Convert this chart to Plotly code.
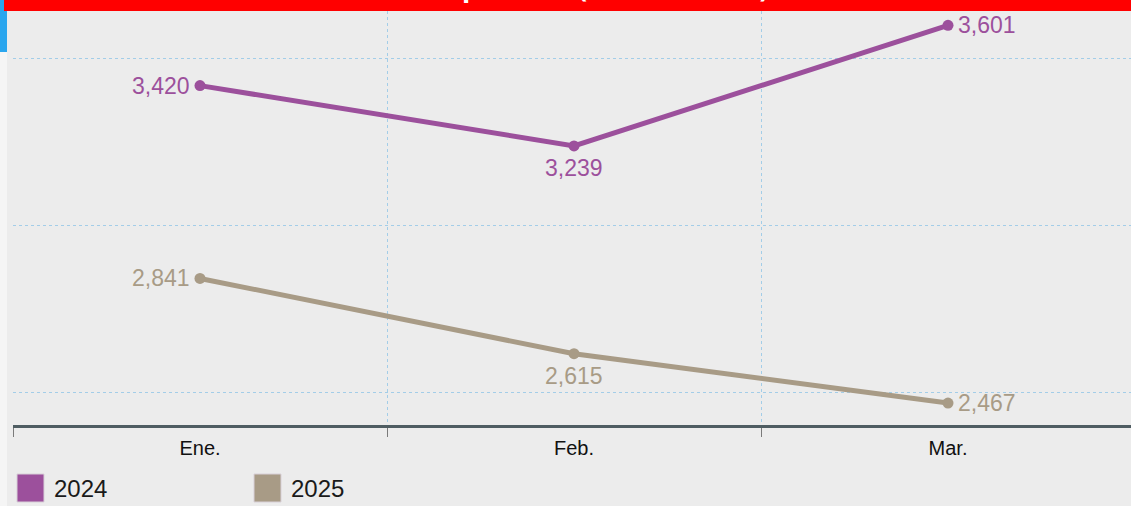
import plotly.graph_objects as go

months = ["Ene.", "Feb.", "Mar."]
y2024 = [3420, 3239, 3601]
y2025 = [2841, 2615, 2467]
labels2024 = ["3,420", "3,239", "3,601"]
labels2025 = ["2,841", "2,615", "2,467"]
series_names = ["2024", "2025"]
grid_values = [2500, 3000, 3500]
title_text = "Total de delitos por mes (enero-marzo) 2024 vs 2025"

C24 = "#9c509c"
C25 = "#a89b86"
GRID = "#a3cde8"

W, H = 1131, 506
ML, MR, MT, MB = 13, 0, 11, 81
PW, PH = W - ML - MR, H - MT - MB


def px(x):
    return (x - ML) / PW


def py(y):
    return (H - MB - y) / PH


fig = go.Figure()
annotations = []
# label placement per month: (xanchor, yanchor, xshift, yshift)
place = [("right", "middle", -8, 0), ("center", "top", 0, -7), ("left", "middle", 8, 0)]
for vals, labs, col, name in [(y2024, labels2024, C24, series_names[0]),
                               (y2025, labels2025, C25, series_names[1])]:
    fig.add_trace(go.Scatter(
        x=months, y=vals, name=name, mode="lines+markers",
        line=dict(color=col, width=5), marker=dict(color=col, size=11),
        showlegend=False, hoverinfo="skip", cliponaxis=False))
    for m, v, lab, (xa, ya, xs, ys) in zip(months, vals, labs, place):
        annotations.append(dict(x=m, y=v, xref="x", yref="y", text=lab, showarrow=False,
                                xanchor=xa, yanchor=ya, xshift=xs, yshift=ys,
                                font=dict(family="Liberation Sans, Arial", size=23, color=col)))

xr = [-0.5, -0.5 + PW / 374.0]
fig.update_layout(
    width=W, height=H, autosize=False,
    margin=dict(l=ML, r=MR, t=MT, b=MB, pad=0),
    paper_bgcolor="#ececec", plot_bgcolor="#ececec",
    font=dict(family="Liberation Sans, Arial", color="#111111"),
    xaxis=dict(type="category", range=xr, tickson="boundaries",
               showgrid=True, gridcolor=GRID, gridwidth=1, griddash="dot",
               zeroline=False, showline=True, linecolor="#4f5d62", linewidth=3,
               ticks="outside", ticklen=9, tickwidth=1, tickcolor="#7a7a7a",
               ticklabelstandoff=3,
               tickfont=dict(size=20, color="#111111")),
    yaxis=dict(range=[2401, 3644], tickvals=grid_values, showticklabels=False,
               ticks="", showgrid=True, gridcolor=GRID, gridwidth=1,
               griddash="dot", zeroline=False, showline=False),
)

shapes = [
    # left screen strip
    dict(type="rect", xref="paper", yref="paper", x0=px(0), x1=px(7), y0=py(H), y1=py(0),
         fillcolor="#f5f5f5", line=dict(width=0), layer="above"),
    dict(type="rect", xref="paper", yref="paper", x0=px(0), x1=px(7), y0=py(52), y1=py(0),
         fillcolor="#2aa6ee", line=dict(width=0), layer="above"),
    # red banner
    dict(type="rect", xref="paper", yref="paper", x0=px(4), x1=px(W), y0=py(11), y1=py(0),
         fillcolor="#ff0000", line=dict(width=0), layer="above"),
]
annotations.append(
    dict(text="<b>" + title_text + "</b>", xref="paper", yref="paper",
         x=px(595), y=py(7.5), xanchor="center", yanchor="bottom", showarrow=False,
         font=dict(family="Open Sans, Liberation Sans", size=27, color="#ffffff")))
# manual legend
for name, col, x0, tx in [(series_names[0], C24, 17, 52), (series_names[1], C25, 254, 289)]:
    shapes.append(dict(type="rect", xref="paper", yref="paper", x0=px(x0), x1=px(x0 + 27),
                       y0=py(502), y1=py(474), fillcolor=col,
                       line=dict(color="#d8d0d8", width=1)))
    annotations.append(dict(text=name, xref="paper", yref="paper", x=px(tx), y=py(488),
                            xanchor="left", yanchor="middle", showarrow=False,
                            font=dict(size=24, color="#1a1a1a")))
fig.update_layout(shapes=shapes, annotations=annotations)

fig.write_html("out.html", config={"displayModeBar": False},
               post_script="document.body.style.margin='0';document.body.style.overflow='hidden';")
